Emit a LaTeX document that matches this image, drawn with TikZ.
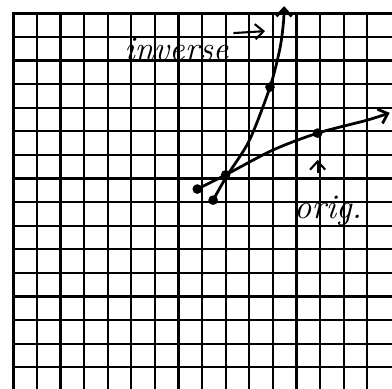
\documentclass[tikz,border=0pt]{standalone}
\usetikzlibrary{arrows.meta}
\begin{document}
\begin{tikzpicture}[x=0.6cm,y=0.6cm,
  gridline/.style={line width=1.6pt},
  curve/.style={line width=2pt,line cap=round},
  pt/.style={circle,fill,inner sep=0pt,minimum size=7pt},
  hand/.style={font=\fontsize{25}{27}\selectfont\itshape},
  barb/.style={-{Straight Barb[length=6pt,width=11pt]}}]
\useasboundingbox (-8.56,-7.92) rectangle (8.05,8.56);
% graph paper
\foreach \i in {-7,...,7} \draw[gridline] (\i,-8) -- (\i,8);
\foreach \j in {-7,...,7} \draw[gridline] (-8,\j) -- (8.05,\j);
\draw[line width=2.2pt] (-8,-8) -- (-8,8) -- (8.05,8);
% original and inverse
\draw[curve,barb] plot[smooth] coordinates {(-0.2,0.55) (1,1.15) (3,2.2) (4.9,2.92) (7,3.47) (7.95,3.78)};
\draw[curve,barb] plot[smooth] coordinates {(0.47,0.08) (1.05,1.1) (2.0,2.6) (2.88,4.87) (3.3,6.5) (3.45,7.6) (3.48,8.3)};
\node[pt] (a) at (-0.2,0.55) {};
\node[pt] (b) at (0.47,0.08) {};
\node[pt] (c) at (1,1.15) {};
\node[pt] (o5) at (4.9,2.92) {};
\node[pt] (i5) at (2.88,4.87) {};
% labels
\node[hand,anchor=base west] (inv) at (-3.5,6.0) {inverse};
\coordinate (invtip) at (2.67,7.24);
\draw[line width=1.5pt,barb] (inv.north east) -- (invtip);
\node[hand,anchor=base west] (orig) at (3.7,-0.7) {orig.};
\draw[line width=1.5pt,barb,shorten <=0.45cm,shorten >=0.55cm] (orig.north -| o5) -- (o5);
\end{tikzpicture}
\end{document}
